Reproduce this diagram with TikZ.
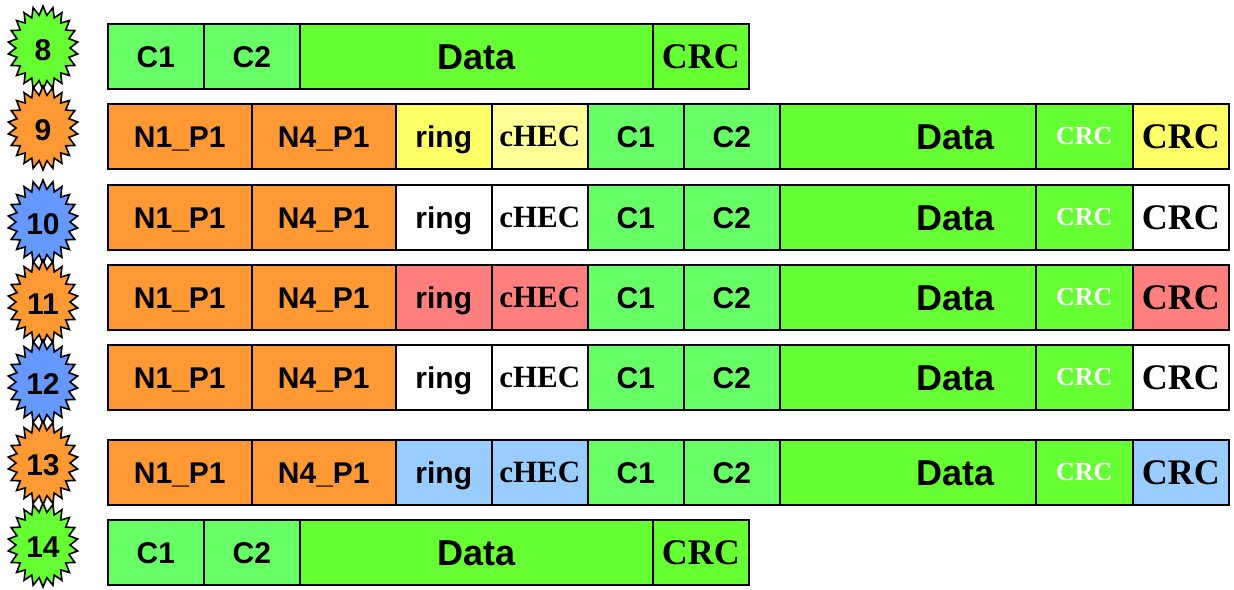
\documentclass[tikz,border=0pt]{standalone}
\usepackage{fontspec}
\setmainfont{Liberation Sans}
\newfontfamily\serifbold{Liberation Serif}
\definecolor{lgreen}{HTML}{66FF66}
\definecolor{dgreen}{HTML}{66FF33}
\definecolor{orng}{HTML}{FF9933}
\definecolor{yel}{HTML}{FFFF66}
\definecolor{lyel}{HTML}{FFFF99}
\definecolor{rose}{HTML}{FF7F7F}
\definecolor{sky}{HTML}{99CCFF}
\definecolor{starblue}{HTML}{6699FF}

% step badge: a spiky oval with its number; #1 name, #2 number y, #3 fill, #4 number
\newcommand\badge[4]{%
  \draw[line width=1.6pt, line join=miter, fill=#3]
    plot[samples at={0,...,43}]
      ({43+(mod(\x,2)==0 ? 35 : 27)*cos(90+\x*360/44)},
       {#2-2+(mod(\x,2)==0 ? 42 : 33)*sin(90+\x*360/44)}) -- cycle;
  \node[badgetext] (#1) at (43,#2) {#4};
}
% one packet row with the ring header: #1 id, #2 top edge, #3 ring fill, #4 cHEC fill, #5 trailing CRC fill
\newcommand\longrow[5]{%
  \node[cell, fill=orng, minimum width=144pt] (n1p1#1) at (107,#2) {N1\_P1};
  \node[cell, fill=orng, minimum width=144pt] (n4p1#1) at (251,#2) {N4\_P1};
  \node[cell, fill=#3, minimum width=96pt] (ring#1) at (395,#2) {ring};
  \node[cell, fill=#4, minimum width=96pt, serifcell] (chec#1) at (491,#2) {cHEC};
  \node[cell, fill=lgreen, minimum width=96pt] (ca#1) at (587,#2) {C1};
  \node[cell, fill=lgreen, minimum width=96pt] (cb#1) at (683,#2) {C2};
  \node[cell, fill=dgreen, minimum width=256pt,
        label={[datatext, xshift=48pt]center:Data}] (data#1) at (779,#2) {};
  \node[cell, fill=dgreen, minimum width=97pt, smallcrc] (icrc#1) at (1035,#2) {CRC};
  \node[cell, fill=#5, minimum width=96pt, bigcrc] (ocrc#1) at (1132,#2) {CRC};
}
% one plain packet row: #1 id, #2 top edge
\newcommand\shortrow[2]{%
  \node[cell, fill=lgreen, minimum width=96pt] (ca#1) at (107,#2) {C1};
  \node[cell, fill=lgreen, minimum width=96pt] (cb#1) at (203,#2) {C2};
  \node[cell, fill=dgreen, minimum width=353pt, datatext] (data#1) at (299,#2) {Data};
  \node[cell, fill=dgreen, minimum width=96pt, bigcrc] (crc#1) at (652,#2) {CRC};
}

\begin{document}
\begin{tikzpicture}[x=1pt,y=-1pt,
  cell/.style={draw=black, line width=1.6pt, rectangle, anchor=north west,
    minimum height=65pt, inner sep=0pt, font=\fontsize{30}{30}\bfseries,
    text height=21.5pt, text depth=0pt},
  datatext/.style={font=\fontsize{36}{36}\bfseries, text height=25.8pt, text depth=0pt, inner sep=0pt},
  serifcell/.style={font=\serifbold\fontsize{31}{31}\bfseries, text height=20.5pt},
  bigcrc/.style={font=\serifbold\fontsize{36}{36}\bfseries, text height=23.8pt},
  smallcrc/.style={text=white, font=\serifbold\fontsize{26}{26}\bfseries, text height=17.2pt},
  badgetext/.style={inner sep=0pt, font=\fontsize{30}{30}\bfseries,
    text height=21.5pt, text depth=0pt}]
\useasboundingbox (0,0) rectangle (1234,589);

% step badges
\badge{s8}{50}{dgreen}{8}
\badge{s9}{130}{orng}{9}
\badge{s10}{224}{starblue}{10}
\badge{s11}{304}{orng}{11}
\badge{s12}{384}{starblue}{12}
\badge{s13}{465}{orng}{13}
\badge{s14}{547}{dgreen}{14}

% packet rows
\shortrow{8}{23}
\longrow{9}{103}{yel}{lyel}{yel}
\longrow{10}{184}{white}{white}{white}
\longrow{11}{264}{rose}{rose}{rose}
\longrow{12}{344}{white}{white}{white}
\longrow{13}{439}{sky}{sky}{sky}
\shortrow{14}{519}
\end{tikzpicture}
\end{document}
